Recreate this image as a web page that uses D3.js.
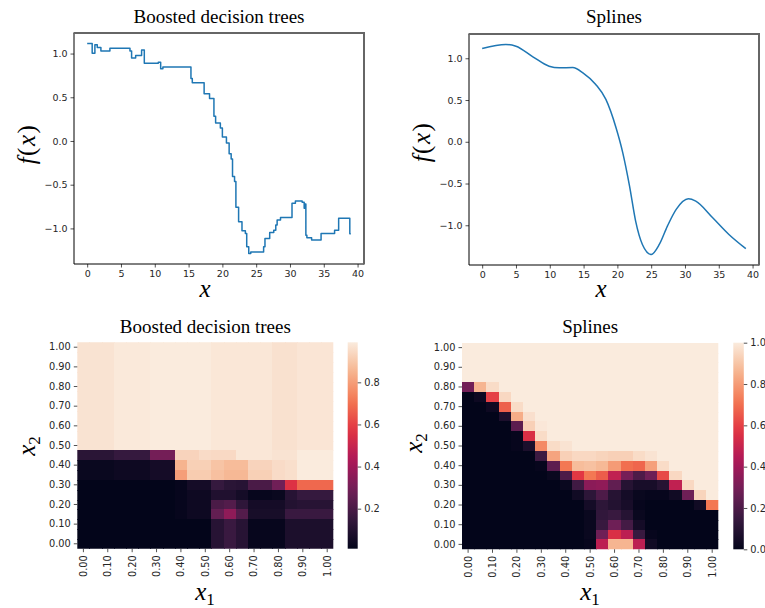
<!DOCTYPE html>
<html>
<head>
<meta charset="utf-8">
<script src="https://cdn.jsdelivr.net/npm/d3@7"></script>
<style>
body { margin: 0; background: #fff; }
svg text { font-family: "DejaVu Sans", sans-serif; fill: #262626; }
svg text.title { font-family: "Liberation Serif", "Times New Roman", serif; font-size: 19px; fill: #000; }
svg text.math { font-family: "Liberation Serif", "Times New Roman", serif; font-size: 25px; fill: #000; }
</style>
</head>
<body>
<svg id="fig" width="765" height="608"></svg>
<script>
// boosted trees: step starts (x) and level (y)
var treeX = [0, 0.74, 1.14, 1.49, 2.03, 3.36, 6.33, 6.57, 7.17, 8.05, 8.45, 10.52, 10.87, 11.2,
    15.35, 15.55, 17.3, 18.1, 18.75, 19.0, 19.7, 20.0, 20.6, 21.0, 21.3, 21.5, 21.8, 22.0, 22.4,
    22.9, 23.4, 23.6, 23.9, 24.2, 26.1, 26.3, 27.0, 27.6, 27.9, 28.1, 28.6, 30.3, 30.8, 31.8,
    32.1, 32.2, 32.35, 32.5, 33.2, 34.6, 36.6, 37.2, 38.85, 39.0];
var treeY = [1.115, 1.003, 1.10, 1.07, 1.03, 1.06, 1.03, 0.95, 0.977, 1.04, 0.889, 0.90, 0.825, 0.845,
    0.716, 0.667, 0.54, 0.486, 0.283, 0.207, 0.149, 0.046, -0.023, -0.146, -0.207, -0.407, -0.464, -0.759, -0.924,
    -1.028, -1.057, -1.211, -1.287, -1.269, -1.21, -1.115, -1.046, -1.02, -0.962, -0.905, -0.874, -0.713, -0.686, -0.70,
    -0.77, -0.72, -1.077, -1.107, -1.134, -1.057, -1.02, -0.885, -1.06, -1.06];

// splines
var splineX = [0, 3.5, 5, 7.5, 9.9, 11.4, 13.4, 14.9, 16.8, 18.3, 19.8, 20.8, 21.8, 22.7, 23.7, 25,
    26.2, 27.4, 28.7, 30.5, 31.6, 34.1, 36.5, 39];
var splineY = [1.117, 1.165, 1.145, 1.018, 0.905, 0.886, 0.89, 0.826, 0.686, 0.507, 0.168, -0.132,
    -0.53, -0.95, -1.23, -1.35, -1.23, -1.01, -0.81, -0.683, -0.711, -0.91, -1.11, -1.28];

var xTicks = [0, 5, 10, 15, 20, 25, 30, 35, 40];
var yTicks = [-1.0, -0.5, 0.0, 0.5, 1.0];

var x1Labels = ["0.00", "0.05", "0.10", "0.15", "0.20", "0.25", "0.30", "0.35", "0.40", "0.45", "0.50",
    "0.55", "0.60", "0.65", "0.70", "0.75", "0.80", "0.85", "0.90", "0.95", "1.00"];
var x2Labels = ["1.00", "0.95", "0.90", "0.85", "0.80", "0.75", "0.70", "0.65", "0.60", "0.55", "0.50",
    "0.45", "0.40", "0.35", "0.30", "0.25", "0.20", "0.15", "0.10", "0.05", "0.00"];
var x1TickLabels = ["0.00", "0.10", "0.20", "0.30", "0.40", "0.50", "0.60", "0.70", "0.80", "0.90", "1.00"];
var x2TickLabels = ["1.00", "0.90", "0.80", "0.70", "0.60", "0.50", "0.40", "0.30", "0.20", "0.10", "0.00"];

// rows from x2 = 1.00 (top) down to 0.00
var treeGrid = [
    [0.97, 0.97, 0.97, 0.985, 0.985, 0.985, 0.99, 0.99, 0.99, 0.99, 0.99, 0.98, 0.98, 0.98, 0.98, 0.98, 0.965, 0.965, 0.975, 0.975, 0.975],
    [0.97, 0.97, 0.97, 0.985, 0.985, 0.985, 0.99, 0.99, 0.99, 0.99, 0.99, 0.98, 0.98, 0.98, 0.98, 0.98, 0.965, 0.965, 0.975, 0.975, 0.975],
    [0.97, 0.97, 0.97, 0.985, 0.985, 0.985, 0.99, 0.99, 0.99, 0.99, 0.99, 0.98, 0.98, 0.98, 0.98, 0.98, 0.965, 0.965, 0.975, 0.975, 0.975],
    [0.97, 0.97, 0.97, 0.985, 0.985, 0.985, 0.99, 0.99, 0.99, 0.99, 0.99, 0.98, 0.98, 0.98, 0.98, 0.98, 0.965, 0.965, 0.975, 0.975, 0.975],
    [0.97, 0.97, 0.97, 0.985, 0.985, 0.985, 0.99, 0.99, 0.99, 0.99, 0.99, 0.98, 0.98, 0.98, 0.98, 0.98, 0.965, 0.965, 0.975, 0.975, 0.975],
    [0.97, 0.97, 0.97, 0.985, 0.985, 0.985, 0.99, 0.99, 0.99, 0.99, 0.99, 0.98, 0.98, 0.98, 0.98, 0.98, 0.965, 0.965, 0.975, 0.975, 0.975],
    [0.97, 0.97, 0.97, 0.985, 0.985, 0.985, 0.99, 0.99, 0.99, 0.99, 0.99, 0.98, 0.98, 0.98, 0.98, 0.98, 0.965, 0.965, 0.975, 0.975, 0.975],
    [0.97, 0.97, 0.97, 0.985, 0.985, 0.985, 0.99, 0.99, 0.99, 0.99, 0.99, 0.98, 0.98, 0.98, 0.98, 0.98, 0.965, 0.965, 0.975, 0.975, 0.975],
    [0.97, 0.97, 0.97, 0.985, 0.985, 0.985, 0.99, 0.99, 0.99, 0.99, 0.99, 0.98, 0.98, 0.98, 0.98, 0.98, 0.965, 0.965, 0.975, 0.975, 0.975],
    [0.97, 0.97, 0.97, 0.985, 0.985, 0.985, 0.99, 0.99, 0.99, 0.99, 0.99, 0.98, 0.98, 0.98, 0.98, 0.98, 0.965, 0.965, 0.975, 0.975, 0.975],
    [0.97, 0.97, 0.97, 0.985, 0.985, 0.985, 0.99, 0.99, 0.99, 0.99, 0.99, 0.98, 0.98, 0.98, 0.98, 0.98, 0.965, 0.965, 0.975, 0.975, 0.975],
    [0.12, 0.12, 0.12, 0.15, 0.15, 0.15, 0.30, 0.30, 0.93, 0.93, 0.95, 0.945, 0.945, 0.98, 0.98, 0.98, 0.97, 0.97, 0.99, 0.99, 0.99],
    [0.03, 0.03, 0.03, 0.04, 0.04, 0.04, 0.06, 0.06, 0.85, 0.92, 0.92, 0.89, 0.87, 0.87, 0.93, 0.93, 0.95, 0.96, 0.99, 0.99, 0.99],
    [0.03, 0.03, 0.03, 0.04, 0.04, 0.04, 0.06, 0.06, 0.80, 0.91, 0.91, 0.88, 0.86, 0.86, 0.92, 0.92, 0.95, 0.96, 0.99, 0.99, 0.99],
    [0.01, 0.01, 0.01, 0.01, 0.01, 0.01, 0.01, 0.01, 0.02, 0.06, 0.06, 0.15, 0.12, 0.11, 0.20, 0.20, 0.29, 0.56, 0.68, 0.68, 0.68],
    [0.01, 0.01, 0.01, 0.01, 0.01, 0.01, 0.01, 0.01, 0.02, 0.04, 0.04, 0.09, 0.09, 0.06, 0.02, 0.02, 0.03, 0.11, 0.15, 0.15, 0.15],
    [0.01, 0.01, 0.01, 0.01, 0.01, 0.01, 0.01, 0.01, 0.02, 0.04, 0.04, 0.20, 0.22, 0.13, 0.06, 0.06, 0.06, 0.10, 0.11, 0.11, 0.11],
    [0.01, 0.01, 0.01, 0.01, 0.01, 0.01, 0.01, 0.01, 0.02, 0.04, 0.04, 0.26, 0.36, 0.22, 0.07, 0.07, 0.07, 0.16, 0.16, 0.16, 0.16],
    [0.01, 0.01, 0.01, 0.01, 0.01, 0.01, 0.01, 0.01, 0.01, 0.01, 0.01, 0.11, 0.16, 0.11, 0.02, 0.02, 0.02, 0.08, 0.08, 0.08, 0.08],
    [0.01, 0.01, 0.01, 0.01, 0.01, 0.01, 0.01, 0.01, 0.01, 0.01, 0.01, 0.11, 0.16, 0.11, 0.02, 0.02, 0.02, 0.08, 0.08, 0.08, 0.08],
    [0.01, 0.01, 0.01, 0.01, 0.01, 0.01, 0.01, 0.01, 0.01, 0.01, 0.01, 0.11, 0.16, 0.11, 0.02, 0.02, 0.02, 0.08, 0.08, 0.08, 0.08]
];

var splineGrid = [
    [1, 1, 1, 1, 1, 1, 1, 1, 1, 1, 1, 1, 1, 1, 1, 1, 1, 1, 1, 1, 1],
    [1, 1, 1, 1, 1, 1, 1, 1, 1, 1, 1, 1, 1, 1, 1, 1, 1, 1, 1, 1, 1],
    [1, 1, 1, 1, 1, 1, 1, 1, 1, 1, 1, 1, 1, 1, 1, 1, 1, 1, 1, 1, 1],
    [1, 1, 1, 1, 1, 1, 1, 1, 1, 1, 1, 1, 1, 1, 1, 1, 1, 1, 1, 1, 1],
    [0.29, 0.86, 0.96, 1, 1, 1, 1, 1, 1, 1, 1, 1, 1, 1, 1, 1, 1, 1, 1, 1, 1],
    [0, 0.03, 0.60, 0.95, 1, 1, 1, 1, 1, 1, 1, 1, 1, 1, 1, 1, 1, 1, 1, 1, 1],
    [0, 0, 0.03, 0.67, 0.96, 1, 1, 1, 1, 1, 1, 1, 1, 1, 1, 1, 1, 1, 1, 1, 1],
    [0, 0, 0, 0.07, 0.84, 0.97, 1, 1, 1, 1, 1, 1, 1, 1, 1, 1, 1, 1, 1, 1, 1],
    [0, 0, 0, 0, 0.24, 0.93, 0.99, 1, 1, 1, 1, 1, 1, 1, 1, 1, 1, 1, 1, 1, 1],
    [0, 0, 0, 0, 0.01, 0.55, 0.96, 1, 1, 1, 1, 1, 1, 1, 1, 1, 1, 1, 1, 1, 1],
    [0, 0, 0, 0, 0.01, 0.07, 0.76, 0.96, 0.98, 1, 1, 1, 1, 1, 1, 1, 1, 1, 1, 1, 1],
    [0, 0, 0, 0, 0, 0, 0.16, 0.82, 0.93, 0.95, 0.95, 0.94, 0.93, 0.93, 0.96, 0.98, 1, 1, 1, 1, 1],
    [0, 0, 0, 0, 0, 0, 0.01, 0.24, 0.72, 0.88, 0.89, 0.87, 0.80, 0.70, 0.68, 0.81, 0.96, 1, 1, 1, 1],
    [0, 0, 0, 0, 0, 0, 0, 0.02, 0.20, 0.58, 0.72, 0.66, 0.48, 0.30, 0.20, 0.28, 0.62, 0.95, 1, 1, 1],
    [0, 0, 0, 0, 0, 0, 0, 0, 0.02, 0.17, 0.35, 0.36, 0.25, 0.10, 0.06, 0.06, 0.10, 0.48, 0.95, 1, 1],
    [0, 0, 0, 0, 0, 0, 0, 0, 0, 0.04, 0.12, 0.20, 0.10, 0.05, 0.02, 0.01, 0.01, 0.04, 0.28, 0.94, 1],
    [0, 0, 0, 0, 0, 0, 0, 0, 0, 0, 0.05, 0.12, 0.09, 0.06, 0.01, 0, 0, 0, 0, 0.04, 0.72],
    [0, 0, 0, 0, 0, 0, 0, 0, 0, 0, 0.02, 0.13, 0.15, 0.10, 0.02, 0, 0, 0, 0, 0, 0],
    [0, 0, 0, 0, 0, 0, 0, 0, 0, 0, 0.02, 0.15, 0.28, 0.18, 0.05, 0, 0, 0, 0, 0, 0],
    [0, 0, 0, 0, 0, 0, 0, 0, 0, 0, 0.02, 0.28, 0.55, 0.47, 0.15, 0.01, 0, 0, 0, 0, 0],
    [0, 0, 0, 0, 0, 0, 0, 0, 0, 0, 0.01, 0.47, 0.86, 0.86, 0.47, 0.04, 0, 0, 0, 0, 0]
];

// seaborn "rocket" colour stops
var rocketStops = ["#03051a", "#35193e", "#701f57", "#ad1759", "#e13342", "#f37651", "#f6b48f", "#faebdd"];
var rocket = d3.piecewise(d3.interpolateRgb, rocketStops);

var svg = d3.select("#fig");
var defs = svg.append("defs");

function styleAxis(g, size) {
    g.select(".domain").remove();
    g.selectAll(".tick line").attr("stroke", "#262626").attr("stroke-width", 0.8);
    g.selectAll(".tick text").style("font-size", size + "px").attr("fill", "#262626");
}

function linePanel(box, xs, ys, curve, title, titleX, xlabX, ylab) {
    var pts = xs.map(function(x, i) { return [x, ys[i]]; });
    var xPad = (d3.max(xs) - d3.min(xs)) * 0.05;
    var yPad = (d3.max(ys) - d3.min(ys)) * 0.05;
    var x = d3.scaleLinear().domain([d3.min(xs) - xPad, d3.max(xs) + xPad]).range([box.left, box.right]);
    var y = d3.scaleLinear().domain([d3.min(ys) - yPad, d3.max(ys) + yPad]).range([box.bottom, box.top]);

    var gx = svg.append("g").attr("transform", "translate(0," + box.bottom + ")")
        .call(d3.axisBottom(x).tickValues(xTicks).tickSize(3.5).tickPadding(3).tickFormat(d3.format("d")));
    styleAxis(gx, 9.5);
    var gy = svg.append("g").attr("transform", "translate(" + box.left + ",0)")
        .call(d3.axisLeft(y).tickValues(yTicks).tickSize(3.5).tickPadding(3).tickFormat(d3.format(".1f")));
    styleAxis(gy, 9.5);

    svg.append("path")
        .datum(pts)
        .attr("fill", "none")
        .attr("stroke", "#1f77b4")
        .attr("stroke-width", 1.5)
        .attr("stroke-linejoin", "round")
        .attr("d", d3.line().x(d => x(d[0])).y(d => y(d[1])).curve(curve));

    // frame: thin black left/bottom, heavier grey top/right
    svg.append("line").attr("x1", box.left).attr("x2", box.left).attr("y1", box.top).attr("y2", box.bottom)
        .attr("stroke", "#000").attr("stroke-width", 1);
    svg.append("line").attr("x1", box.left).attr("x2", box.right).attr("y1", box.bottom).attr("y2", box.bottom)
        .attr("stroke", "#000").attr("stroke-width", 1);
    svg.append("line").attr("x1", box.left - 0.5).attr("x2", box.right).attr("y1", box.top).attr("y2", box.top)
        .attr("stroke", "#666").attr("stroke-width", 2);
    svg.append("line").attr("x1", box.right).attr("x2", box.right).attr("y1", box.top - 1).attr("y2", box.bottom + 0.5)
        .attr("stroke", "#666").attr("stroke-width", 2);

    svg.append("text").attr("class", "title").attr("x", titleX).attr("y", 23)
        .attr("text-anchor", "middle").text(title);

    svg.append("text").attr("class", "math").attr("x", xlabX).attr("y", 297)
        .attr("text-anchor", "middle").style("font-style", "italic").text("x");

    var yl = svg.append("text").attr("class", "math")
        .attr("transform", "translate(" + ylab[0] + "," + ylab[1] + ") rotate(-90)")
        .attr("text-anchor", "middle").attr("dy", "0.3em").style("letter-spacing", "1.5px");
    yl.append("tspan").style("font-style", "italic").text("f");
    yl.append("tspan").text("(");
    yl.append("tspan").style("font-style", "italic").text("x");
    yl.append("tspan").text(")");
}

function heatPanel(box, grid, title, cb, cbTicks, xlab, ylab) {
    var xb = d3.scaleBand().domain(x1Labels).range([box.left, box.right]);
    var yb = d3.scaleBand().domain(x2Labels).range([box.top, box.bottom]);
    var flat = [];
    grid.forEach(function(row, i) {
        row.forEach(function(v, j) { flat.push({ r: x2Labels[i], c: x1Labels[j], v: v }); });
    });
    var color = d3.scaleSequential(rocket).domain(d3.extent(flat, d => d.v));

    var cid = "clip" + Math.round(box.left);
    defs.append("clipPath").attr("id", cid).append("rect")
        .attr("x", box.left).attr("y", box.top)
        .attr("width", box.right - box.left).attr("height", box.bottom - box.top);

    svg.append("g").attr("clip-path", "url(#" + cid + ")")
        .attr("shape-rendering", "crispEdges")
        .selectAll("rect")
        .data(flat)
        .enter()
        .append("rect")
        .attr("x", d => xb(d.c))
        .attr("y", d => yb(d.r))
        .attr("width", xb.bandwidth() + 1)
        .attr("height", yb.bandwidth() + 1)
        .attr("fill", d => color(d.v));

    var gy = svg.append("g").attr("transform", "translate(" + box.left + ",0)")
        .call(d3.axisLeft(yb).tickValues(x2TickLabels).tickSize(3.5).tickPadding(3));
    styleAxis(gy, 9.8);

    var gx = svg.append("g").attr("transform", "translate(0," + box.bottom + ")")
        .call(d3.axisBottom(xb).tickValues(x1TickLabels).tickSize(3.5));
    styleAxis(gx, 9.8);
    gx.selectAll(".tick text")
        .attr("transform", "rotate(-90)")
        .attr("x", -6.5)
        .attr("y", 0)
        .attr("dy", "0.35em")
        .style("text-anchor", "end");

    // colourbar
    var gid = "grad" + Math.round(box.left);
    var grad = defs.append("linearGradient").attr("id", gid)
        .attr("x1", 0).attr("y1", 1).attr("x2", 0).attr("y2", 0);
    d3.range(0, 1.0001, 0.05).forEach(function(t) {
        grad.append("stop").attr("offset", t).attr("stop-color", rocket(t));
    });
    svg.append("rect").attr("x", cb.left).attr("y", box.top).attr("width", cb.width)
        .attr("height", box.bottom - box.top).attr("fill", "url(#" + gid + ")");
    var cs = d3.scaleLinear().domain(color.domain()).range([box.bottom, box.top]);
    var gc = svg.append("g").attr("transform", "translate(" + (cb.left + cb.width) + ",0)")
        .call(d3.axisRight(cs).tickValues(cbTicks).tickSize(3.5).tickPadding(3).tickFormat(d3.format(".1f")));
    styleAxis(gc, 9.8);

    svg.append("text").attr("class", "title").attr("x", (box.left + box.right) / 2).attr("y", 332.5)
        .attr("text-anchor", "middle").text(title);

    var xl = svg.append("text").attr("class", "math").attr("x", xlab[0]).attr("y", xlab[1])
        .attr("text-anchor", "middle");
    xl.append("tspan").style("font-style", "italic").text("x");
    xl.append("tspan").attr("dy", 5).style("font-size", "17px").text("1");

    var yl = svg.append("text").attr("class", "math")
        .attr("transform", "translate(" + ylab[0] + "," + ylab[1] + ") rotate(-90)")
        .attr("text-anchor", "middle");
    yl.append("tspan").style("font-style", "italic").text("x");
    yl.append("tspan").attr("dy", 5).style("font-size", "17px").text("2");
}

linePanel({ left: 74, right: 364, top: 33, bottom: 264 }, treeX, treeY, d3.curveStepAfter,
    "Boosted decision trees", 219, 205, [27, 144]);
linePanel({ left: 469, right: 759, top: 34, bottom: 265 }, splineX, splineY, d3.curveMonotoneX,
    "Splines", 614, 601, [422, 142]);

heatPanel({ left: 77.3, right: 333.3, top: 342.3, bottom: 548.7 }, treeGrid, "Boosted decision trees",
    { left: 347.7, width: 10 }, [0.2, 0.4, 0.6, 0.8], [205, 600], [35, 446]);
heatPanel({ left: 462, right: 718.3, top: 342.7, bottom: 549.3 }, splineGrid, "Splines",
    { left: 733.3, width: 10.5 }, [0.0, 0.2, 0.4, 0.6, 0.8, 1.0], [590, 600], [422, 443]);
</script>
</body>
</html>
